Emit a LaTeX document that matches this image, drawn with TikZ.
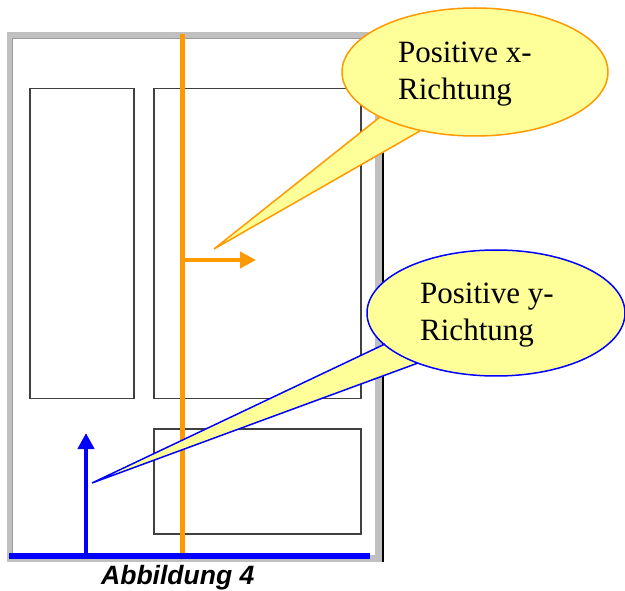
\documentclass[tikz,border=0pt]{standalone}
\usepackage{fontspec}
\setmainfont{Liberation Serif}
\setsansfont{Liberation Sans}
\usetikzlibrary{arrows.meta}
\definecolor{framegray}{HTML}{C0C0C0}
\definecolor{framedark}{HTML}{9A9A9A}
\definecolor{panelgray}{HTML}{404040}
\definecolor{doororange}{HTML}{FF9900}
\definecolor{calloutyellow}{HTML}{FFFF99}
\definecolor{axisblue}{HTML}{0000FF}
\tikzset{
  panel/.style={draw=panelgray, line width=1.5pt},
  callouttext/.style={font=\fontsize{31}{37}\selectfont, anchor=base west, inner sep=0pt, align=left},
  axisarrow/.style={line width=4pt, -{Triangle[length=16pt,width=16pt]}},
}
\begin{document}
\begin{tikzpicture}[x=1pt,y=-1pt]
\useasboundingbox (0,0) rectangle (625,591);
% door frame
\fill[framegray] (7,32) rectangle (383,562);
\fill[white] (13,38) rectangle (375,555);
\draw[framedark, line width=1pt] (12.5,555) -- (12.5,38.5) -- (375,38.5);
\draw[black, line width=1.5pt] (383,32) -- (383,562);
% panels
\node[panel, minimum width=104pt, minimum height=310pt, inner sep=0pt, anchor=north west] (pleft) at (29,88) {};
\node[panel, minimum width=207pt, minimum height=310pt, inner sep=0pt, anchor=north west] (pright) at (153,88) {};
\node[panel, minimum width=207pt, minimum height=105pt, inner sep=0pt, anchor=north west] (plow) at (153,428) {};
% orange door axis
\coordinate (otop) at (182.5,34);
\coordinate (obot) at (182.5,553);
\draw[doororange, line width=4.5pt] (otop) -- (obot);
\coordinate (ostart) at (182.5,260);
\coordinate (oend) at (256,260);
\draw[doororange, axisarrow] (ostart) -- (oend);
% blue floor line and arrow
\coordinate (bl) at (9,556);
\coordinate (br) at (370,556);
\draw[axisblue, line width=5.5pt] (bl) -- (br);
\coordinate (bstart) at (86,554);
\coordinate (bend) at (86,433);
\draw[axisblue, axisarrow] (bstart) -- (bend);
% callout x
\coordinate (xa) at (380,117);
\coordinate (xb) at (420,131);
\coordinate (xtip) at (214,249);
\fill[calloutyellow] (xa) -- (xtip) -- (xb) -- cycle;
\draw[doororange, line width=1.5pt, fill=calloutyellow] (475,72) ellipse [x radius=133, y radius=64];
\fill[calloutyellow] (377,114) -- (425,127) -- (420,100) -- cycle;
\draw[doororange, line width=1.5pt, line join=miter] (xa) -- (xtip) -- (xb);
\node[callouttext] (xtext) at (398,100) {Positive x-\\Richtung};
% callout y
\coordinate (ya) at (385,344);
\coordinate (yb) at (418,363);
\coordinate (ytip) at (92,483);
\fill[calloutyellow] (ya) -- (ytip) -- (yb) -- cycle;
\draw[axisblue, line width=1.5pt, fill=calloutyellow] (496,313) ellipse [x radius=129, y radius=63];
\fill[calloutyellow] (383,342) -- (422,361) -- (420,335) -- cycle;
\draw[axisblue, line width=1.5pt, line join=miter] (ya) -- (ytip) -- (yb);
\node[callouttext] (ytext) at (420,341) {Positive y-\\Richtung};
% caption
\node[font=\sffamily\bfseries\itshape\fontsize{26.5}{30}\selectfont, anchor=base west, inner sep=0pt] (caption) at (101,584) {Abbildung 4};
\end{tikzpicture}
\end{document}
